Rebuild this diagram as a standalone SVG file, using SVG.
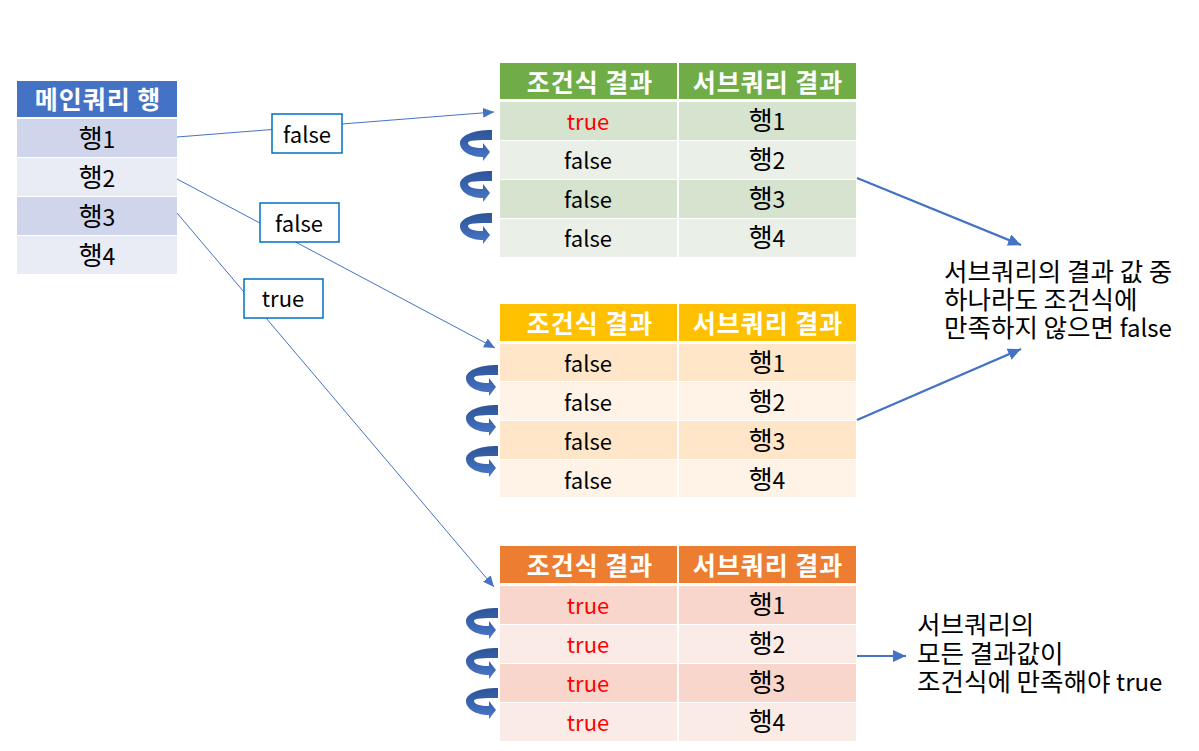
<svg xmlns="http://www.w3.org/2000/svg" xmlns:xlink="http://www.w3.org/1999/xlink" width="1199" height="751" viewBox="0 0 1199 751">
<style>
text{font-family:"Noto Sans CJK KR","Noto Sans",sans-serif;font-size:22px;fill:#000;}
.hd{font-weight:bold;fill:#fff;font-size:25px;letter-spacing:1px;text-anchor:middle;}
.c{text-anchor:middle;}
.k{font-size:26px;}
.d{font-size:23px;}
.red{fill:#FF0000;}
.lbl{fill:#fff;stroke:#0070C0;stroke-width:1.5;}
.thin{stroke:#4472C4;stroke-width:1;fill:none;}
.thick{stroke:#4472C4;stroke-width:2.2;fill:none;}
.note{font-size:25.5px;}
.lat{font-size:24px;}
</style>
<defs>
<marker id="ah" markerWidth="12" markerHeight="10" refX="11" refY="5" orient="auto" markerUnits="userSpaceOnUse">
<path d="M0,0 L11,5 L0,10 Z" fill="#4472C4"/>
</marker>
<marker id="ah2" markerWidth="14" markerHeight="12" refX="13" refY="6" orient="auto" markerUnits="userSpaceOnUse">
<path d="M0,0 L13,6 L0,12 Z" fill="#4472C4"/>
</marker>
<linearGradient id="cg" x1="0" y1="0" x2="0" y2="1">
<stop offset="0" stop-color="#2F5597"/>
<stop offset="0.5" stop-color="#3A64B0"/>
<stop offset="1" stop-color="#4A78C8"/>
</linearGradient>
<path id="curl" d="M32,0 C12,0 0,6 0,13 C0,21 10,27 23,27 L23,31 L30,22 L23,13 L23,18 C14,18 8,16 8,13 C8,10 18,10 32,10 Z" fill="url(#cg)"/>
</defs>

<g id="connectors">
<line class="thin" x1="177" y1="137" x2="494" y2="112" marker-end="url(#ah)"/>
<line class="thin" x1="177" y1="179" x2="495" y2="348" marker-end="url(#ah)"/>
<line class="thin" x1="177" y1="213" x2="494" y2="587" marker-end="url(#ah)"/>
<line class="thick" x1="857" y1="178" x2="1021" y2="245" marker-end="url(#ah2)"/>
<line class="thick" x1="857" y1="420" x2="1021" y2="349" marker-end="url(#ah2)"/>
<line class="thick" x1="857" y1="656" x2="906" y2="656" marker-end="url(#ah2)"/>
</g>

<g id="main-table">
<rect x="17" y="81" width="160" height="36" fill="#4472C4"/>
<rect x="17" y="119" width="160" height="38" fill="#CFD5EA"/>
<rect x="17" y="158" width="160" height="38" fill="#E9EBF5"/>
<rect x="17" y="197" width="160" height="38" fill="#CFD5EA"/>
<rect x="17" y="236" width="160" height="38" fill="#E9EBF5"/>
<text class="hd" x="98" y="109">메인쿼리 행</text>
<text class="c" x="97" y="148"><tspan class="k">행</tspan><tspan class="d">1</tspan></text>
<text class="c" x="97" y="187"><tspan class="k">행</tspan><tspan class="d">2</tspan></text>
<text class="c" x="97" y="226"><tspan class="k">행</tspan><tspan class="d">3</tspan></text>
<text class="c" x="97" y="265"><tspan class="k">행</tspan><tspan class="d">4</tspan></text>
</g>

<g id="label-false-1">
<rect class="lbl" x="272" y="114" width="70" height="39"/>
<text class="c" x="307" y="143">false</text>
</g>
<g id="label-false-2">
<rect class="lbl" x="260" y="203" width="79" height="39"/>
<text class="c" x="299" y="232">false</text>
</g>
<g id="label-true">
<rect class="lbl" x="244" y="279" width="79" height="39"/>
<text class="c" x="283" y="307">true</text>
</g>

<g id="table-green">
<rect x="500" y="63" width="177" height="36" fill="#70AD47"/>
<rect x="679" y="63" width="177" height="36" fill="#70AD47"/>
<rect x="500" y="102" width="177" height="38" fill="#D5E3CF"/>
<rect x="679" y="102" width="177" height="38" fill="#D5E3CF"/>
<rect x="500" y="141" width="177" height="38" fill="#EAF0E7"/>
<rect x="679" y="141" width="177" height="38" fill="#EAF0E7"/>
<rect x="500" y="180" width="177" height="38" fill="#D5E3CF"/>
<rect x="679" y="180" width="177" height="38" fill="#D5E3CF"/>
<rect x="500" y="219" width="177" height="38" fill="#EAF0E7"/>
<rect x="679" y="219" width="177" height="38" fill="#EAF0E7"/>
<text class="hd" x="590" y="92">조건식 결과</text>
<text class="hd" x="768" y="92">서브쿼리 결과</text>
<text class="c red" x="588" y="130">true</text>
<text class="c" x="767" y="130"><tspan class="k">행</tspan><tspan class="d">1</tspan></text>
<text class="c" x="588" y="169">false</text>
<text class="c" x="767" y="169"><tspan class="k">행</tspan><tspan class="d">2</tspan></text>
<text class="c" x="588" y="208">false</text>
<text class="c" x="767" y="208"><tspan class="k">행</tspan><tspan class="d">3</tspan></text>
<text class="c" x="588" y="247">false</text>
<text class="c" x="767" y="247"><tspan class="k">행</tspan><tspan class="d">4</tspan></text>
</g>

<g id="table-yellow">
<rect x="500" y="304" width="177" height="37" fill="#FFC000"/>
<rect x="679" y="304" width="177" height="37" fill="#FFC000"/>
<rect x="500" y="344" width="177" height="37" fill="#FFE6C9"/>
<rect x="679" y="344" width="177" height="37" fill="#FFE6C9"/>
<rect x="500" y="382" width="177" height="38" fill="#FFF3E7"/>
<rect x="679" y="382" width="177" height="38" fill="#FFF3E7"/>
<rect x="500" y="421" width="177" height="38" fill="#FFE6C9"/>
<rect x="679" y="421" width="177" height="38" fill="#FFE6C9"/>
<rect x="500" y="460" width="177" height="37" fill="#FFF3E7"/>
<rect x="679" y="460" width="177" height="37" fill="#FFF3E7"/>
<text class="hd" x="590" y="333">조건식 결과</text>
<text class="hd" x="768" y="333">서브쿼리 결과</text>
<text class="c" x="588" y="372">false</text>
<text class="c" x="767" y="372"><tspan class="k">행</tspan><tspan class="d">1</tspan></text>
<text class="c" x="588" y="411">false</text>
<text class="c" x="767" y="411"><tspan class="k">행</tspan><tspan class="d">2</tspan></text>
<text class="c" x="588" y="450">false</text>
<text class="c" x="767" y="450"><tspan class="k">행</tspan><tspan class="d">3</tspan></text>
<text class="c" x="588" y="489">false</text>
<text class="c" x="767" y="489"><tspan class="k">행</tspan><tspan class="d">4</tspan></text>
</g>

<g id="table-orange">
<rect x="500" y="546" width="177" height="37" fill="#ED7D31"/>
<rect x="679" y="546" width="177" height="37" fill="#ED7D31"/>
<rect x="500" y="586" width="177" height="38" fill="#F8D6CB"/>
<rect x="679" y="586" width="177" height="38" fill="#F8D6CB"/>
<rect x="500" y="625" width="177" height="38" fill="#FBEBE6"/>
<rect x="679" y="625" width="177" height="38" fill="#FBEBE6"/>
<rect x="500" y="664" width="177" height="38" fill="#F8D6CB"/>
<rect x="679" y="664" width="177" height="38" fill="#F8D6CB"/>
<rect x="500" y="703" width="177" height="38" fill="#FBEBE6"/>
<rect x="679" y="703" width="177" height="38" fill="#FBEBE6"/>
<text class="hd" x="590" y="575">조건식 결과</text>
<text class="hd" x="768" y="575">서브쿼리 결과</text>
<text class="c red" x="588" y="614">true</text>
<text class="c" x="767" y="614"><tspan class="k">행</tspan><tspan class="d">1</tspan></text>
<text class="c red" x="588" y="653">true</text>
<text class="c" x="767" y="653"><tspan class="k">행</tspan><tspan class="d">2</tspan></text>
<text class="c red" x="588" y="692">true</text>
<text class="c" x="767" y="692"><tspan class="k">행</tspan><tspan class="d">3</tspan></text>
<text class="c red" x="588" y="731">true</text>
<text class="c" x="767" y="731"><tspan class="k">행</tspan><tspan class="d">4</tspan></text>
</g>

<g id="loop-arrows">
<use xlink:href="#curl" x="460" y="130"/>
<use xlink:href="#curl" x="460" y="171"/>
<use xlink:href="#curl" x="460" y="213"/>
<use xlink:href="#curl" x="466" y="365"/>
<use xlink:href="#curl" x="466" y="405"/>
<use xlink:href="#curl" x="466" y="446"/>
<use xlink:href="#curl" x="466" y="608"/>
<use xlink:href="#curl" x="466" y="648"/>
<use xlink:href="#curl" x="466" y="688"/>
</g>

<g id="note-false">
<text class="note" x="944" y="281">서브쿼리의 결과 값 중</text>
<text class="note" x="944" y="309">하나라도 조건식에</text>
<text class="note" x="944" y="337">만족하지 않으면 <tspan class="lat">false</tspan></text>
</g>
<g id="note-true">
<text class="note" x="917" y="634">서브쿼리의</text>
<text class="note" x="917" y="663">모든 결과값이</text>
<text class="note" x="917" y="691">조건식에 만족해야 <tspan class="lat">true</tspan></text>
</g>
</svg>
